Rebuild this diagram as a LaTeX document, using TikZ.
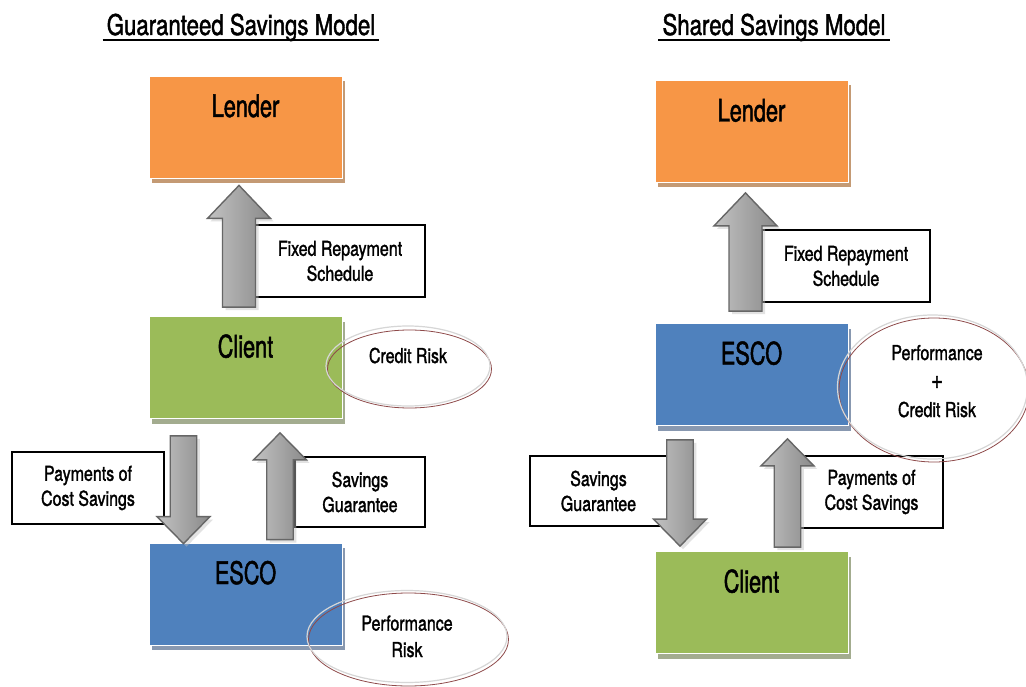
\documentclass[tikz,border=0pt]{standalone}
\usepackage{fontspec}
\setmainfont{TeX Gyre Heros}[FakeStretch=0.78, FakeBold=1.5]
\newfontfamily\boxfont{TeX Gyre Heros}[FakeStretch=0.7, FakeBold=1.5]
\usetikzlibrary{calc,shadows,shapes.geometric}

\definecolor{lenderfill}{HTML}{F79646}
\definecolor{lendershade}{HTML}{C49A74}
\definecolor{clientfill}{HTML}{9BBB59}
\definecolor{clientshade}{HTML}{A3AC8F}
\definecolor{escofill}{HTML}{4F81BD}
\definecolor{escoshade}{HTML}{8898B0}
\definecolor{riskline}{HTML}{8E4A4A}
\definecolor{riskhalo}{HTML}{D6D6D6}
\definecolor{arrowline}{HTML}{666666}

\begin{document}
\begin{tikzpicture}[x=1pt,y=-1pt,
  % coloured party boxes, label near the top edge
  party/.style={rectangle, draw=white, line width=0.8pt,
    minimum width=193pt, inner xsep=0pt, inner ysep=0pt,
    text height=41pt, text depth=61pt,
    font=\boxfont\fontsize{31}{34}\selectfont},
  partyshadow/.style={drop shadow={shadow xshift=3pt, shadow yshift=-5pt,
    shadow scale=1, opacity=1, fill=#1}},
  lender/.style={party, fill=lenderfill, partyshadow=lendershade},
  client/.style={party, fill=clientfill, partyshadow=clientshade},
  esco/.style={party, fill=escofill, partyshadow=escoshade},
  % white caption boxes beside the arrows
  caption/.style={rectangle, draw=black, line width=1.3pt, fill=white,
    align=center, inner sep=0pt, font=\fontsize{20.5}{25}\selectfont},
  title/.style={font=\fontsize{28.5}{32}\selectfont, inner xsep=4pt, inner ysep=0pt, anchor=base},
  risk/.style={ellipse, draw=riskline, line width=0.8pt, inner sep=0pt},
  riskhalo/.style={draw=riskhalo, line width=1.2pt},
  risktext/.style={align=center, anchor=base, inner sep=0pt,
    font=\fontsize{20.5}{26.5}\selectfont},
  % vertical block arrow: shaft half width, head half width, head length
  barrow/.style n args={3}{to path={
    let \p1=(\tikztostart), \p2=(\tikztotarget), \n1={sign(\y2-\y1)} in
    (\x1-#1,\y1) -- (\x1-#1,{\y2-\n1*#3}) -- (\x1-#2,{\y2-\n1*#3})
    -- (\x1,\y2) -- (\x1+#2,{\y2-\n1*#3}) -- (\x1+#1,{\y2-\n1*#3})
    -- (\x1+#1,\y1) -- cycle}},
  arrowlook/.style={draw=arrowline, line width=1.4pt, line join=miter,
    left color=black!24, middle color=black!12, right color=black!46,
    drop shadow={shadow xshift=3pt, shadow yshift=-3pt, shadow scale=1,
      opacity=0.45, fill=black!25}},
  bigarrow/.style={barrow={16.5pt}{31.5pt}{33pt}, arrowlook},
  smallarrow/.style={barrow={13.25pt}{26.5pt}{27pt}, arrowlook},
]
\clip (0,0) rectangle (1026,687);
\fill[white] (0,0) rectangle (1026,687);

% ---------------- Guaranteed savings ----------------
\node[title] (tA) at (241,35) {Guaranteed Savings Model};
\draw[line width=2.6pt] ([yshift=-5pt]tA.base west) -- ([yshift=-5pt]tA.base east);

\node[lender] (lA) at (245.5,127) {Lender};
\node[client] (cA) at (245.5,367.5) {Client};
\node[esco] (eA) at (245.5,594) {ESCO};

\node[caption, minimum width=170pt, minimum height=72pt] (fA) at (340,261)
  {Fixed Repayment\\Schedule};
\node[caption, minimum width=152pt, minimum height=72pt] (pA) at (88,488)
  {Payments of\\Cost Savings};
\node[caption, minimum width=130pt, minimum height=70pt] (sA) at (360,492)
  {Savings\\Guarantee};

\draw[bigarrow] ($(cA.north)+(-6.5,-9)$) to ($(lA.south)+(-6.5,7)$);
\draw[smallarrow] ($(cA.south)+(-62,17)$) to ($(eA.north)+(-62,1)$);
\draw[smallarrow] ($(eA.north)+(34.5,-3)$) to ($(cA.south)+(34.5,14)$);

\node[risk, minimum width=164pt, minimum height=78pt] (rA) at (409.5,369) {};
\draw[riskhalo] ($(rA.center)+(-1.5,-3)$) ellipse [x radius=82, y radius=40];
\node[risktext] (rAt) at ($(rA.center)+(-1.5,-6)$) {Credit Risk};

\node[risk, minimum width=200pt, minimum height=93pt] (qA) at (408.5,639.5) {};
\draw[riskhalo] ($(qA.center)+(-1.5,-3)$) ellipse [x radius=100, y radius=46];
\node[risktext] (qAt) at ($(qA.center)+(-1.5,17.5)$) {Performance\\Risk};

% ---------------- Shared savings ----------------
\node[title] (tB) at (774,35) {Shared Savings Model};
\draw[line width=2.6pt] ([yshift=-5pt]tB.base west) -- ([yshift=-5pt]tB.base east);

\node[lender] (lB) at (751.5,131.5) {Lender};
\node[esco] (eB) at (751.5,374.5) {ESCO};
\node[client] (cB) at (751.5,602.5) {Client};

\node[caption, minimum width=168pt, minimum height=72pt] (fB) at (846,266)
  {Fixed Repayment\\Schedule};
\node[caption, minimum width=137pt, minimum height=70pt] (sB) at (598.5,491)
  {Savings\\Guarantee};
\node[caption, minimum width=143pt, minimum height=72pt] (pB) at (871.5,492)
  {Payments of\\Cost Savings};

\draw[bigarrow] ($(eB.north)+(-6,-12)$) to ($(lB.south)+(-6,10)$);
\draw[smallarrow] ($(eB.south)+(-71.5,14)$) to ($(cB.north)+(-71.5,-5)$);
\draw[smallarrow] ($(cB.north)+(36,-4)$) to ($(eB.south)+(36,13)$);

\node[risk, minimum width=190pt, minimum height=144pt] (rB) at (934,390) {};
\draw[riskhalo] ($(rB.center)+(-1.5,-3)$) ellipse [x radius=95, y radius=72];
\node[risktext, font=\fontsize{20.5}{28.5}\selectfont] (rBt) at ($(rB.center)+(3,27)$)
  {Performance\\{\fontsize{26}{28.5}\selectfont +}\\Credit Risk};
\end{tikzpicture}
\end{document}
